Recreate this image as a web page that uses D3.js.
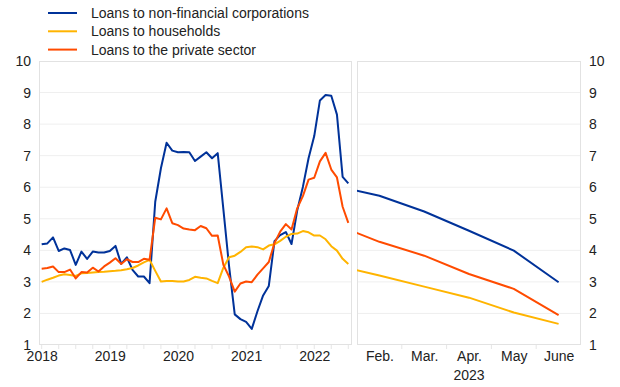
<!DOCTYPE html>
<html>
<head>
<meta charset="utf-8">
<script src="https://cdn.jsdelivr.net/npm/d3@7/dist/d3.min.js"></script>
<style>
  html, body { margin: 0; padding: 0; background: #ffffff; }
  svg { display: block; }
  text { font-family: "Liberation Sans", Arial, sans-serif; fill: #222; }
</style>
</head>
<body>
<svg id="chart" width="620" height="387"></svg>
<script>
// ---- Data (monthly, Jan 2018 – Jul 2022) ----
const yearLabels = ["2018", "2019", "2020", "2021", "2022"];
const yTicks = [1, 2, 3, 4, 5, 6, 7, 8, 9, 10];

const nfcLoans = [
  4.19, 4.22, 4.41, 3.98, 4.06, 4.01, 3.54, 3.96, 3.73, 3.96,
  3.93, 3.93, 3.98, 4.14, 3.57, 3.78, 3.38, 3.17, 3.17, 2.96,
  5.54, 6.60, 7.41, 7.16, 7.11, 7.12, 7.11, 6.83, 6.97, 7.11,
  6.92, 7.08, 5.30, 3.50, 1.97, 1.82, 1.73, 1.51, 2.07, 2.57,
  2.87, 4.29, 4.48, 4.58, 4.20, 5.26, 6.01, 6.92, 7.62, 8.75,
  8.92, 8.90, 8.30, 6.33, 6.12
];
const householdLoans = [
  3.00, 3.07, 3.13, 3.20, 3.24, 3.22, 3.19, 3.27, 3.28, 3.30,
  3.31, 3.32, 3.34, 3.35, 3.37, 3.40, 3.44, 3.52, 3.62, 3.70,
  3.35, 3.01, 3.03, 3.03, 3.01, 3.01, 3.06, 3.16, 3.13, 3.11,
  3.03, 2.96, 3.45, 3.78, 3.83, 3.95, 4.10, 4.12, 4.10, 4.03,
  4.15, 4.19, 4.30, 4.43, 4.52, 4.53, 4.61, 4.57, 4.47, 4.47,
  4.35, 4.13, 3.99, 3.73, 3.57
];
const privateSectorLoans = [
  3.42, 3.44, 3.49, 3.31, 3.31, 3.39, 3.11, 3.31, 3.30, 3.45,
  3.33, 3.49, 3.61, 3.75, 3.57, 3.72, 3.63, 3.63, 3.73, 3.70,
  5.03, 4.98, 5.33, 4.86, 4.80, 4.69, 4.66, 4.64, 4.77, 4.70,
  4.46, 4.47, 3.54, 3.17, 2.69, 2.95, 3.01, 2.99, 3.23, 3.43,
  3.63, 4.23, 4.59, 4.83, 4.66, 5.33, 5.72, 6.24, 6.30, 6.82,
  7.09, 6.56, 6.31, 5.38, 4.87
];

// ---- 2023 panel (Jan – June) ----
const monthLabels = ["Jan.", "Feb.", "Mar.", "Apr.", "May", "June"];
const nfc2023 = [6.05, 5.73, 5.23, 4.62, 3.99, 2.99];
const households2023 = [3.54, 3.20, 2.85, 2.50, 2.03, 1.67];
const privateSector2023 = [4.83, 4.27, 3.83, 3.25, 2.78, 1.95];

const seriesNames = ["Loans to non-financial corporations", "Loans to households", "Loans to the private sector"];
const seriesColors = ["#003299", "#ffb400", "#ff4b00"];

// ---- Layout ----
const svg = d3.select("#chart");
const plotTop = 61, plotBottom = 345;
const leftPanel = { x0: 39, x1: 352 };
const rightPanel = { x0: 357, x1: 581 };

const y = d3.scaleLinear().domain([1, 10]).range([plotBottom, plotTop]);
const xL = d3.scaleLinear().domain([-0.47, 54.65]).range([leftPanel.x0, leftPanel.x1]);
const xR = d3.scaleLinear().domain([0.5, 5.5]).range([rightPanel.x0, rightPanel.x1]);

// clip paths
const defs = svg.append("defs");
defs.append("clipPath").attr("id", "clipL").append("rect")
  .attr("x", leftPanel.x0).attr("y", plotTop).attr("width", leftPanel.x1 - leftPanel.x0).attr("height", plotBottom - plotTop);
defs.append("clipPath").attr("id", "clipR").append("rect")
  .attr("x", rightPanel.x0).attr("y", plotTop).attr("width", rightPanel.x1 - rightPanel.x0).attr("height", plotBottom - plotTop);

// gridlines and panel frames
[leftPanel, rightPanel].forEach(p => {
  svg.append("g").selectAll("line").data(yTicks.slice(1, -1)).join("line")
    .attr("x1", p.x0).attr("x2", p.x1)
    .attr("y1", d => y(d)).attr("y2", d => y(d))
    .attr("stroke", "#efefef").attr("stroke-width", 1);
  svg.append("rect")
    .attr("x", p.x0 + 0.5).attr("y", plotTop + 0.5)
    .attr("width", p.x1 - p.x0 - 1).attr("height", plotBottom - plotTop - 1)
    .attr("fill", "none").attr("stroke", "#e2e2e2").attr("stroke-width", 1);
});

// minor ticks (quarters on left, months on right)
svg.append("g").selectAll("line").data(d3.range(0, 55, 3)).join("line")
  .attr("x1", d => xL(d)).attr("x2", d => xL(d))
  .attr("y1", plotBottom).attr("y2", plotBottom + 4)
  .attr("stroke", "#e6e6e6");
svg.append("g").selectAll("line").data([1.5, 2.5, 3.5, 4.5]).join("line")
  .attr("x1", d => xR(d)).attr("x2", d => xR(d))
  .attr("y1", plotBottom).attr("y2", plotBottom + 4)
  .attr("stroke", "#e6e6e6");

// axes
function styleAxis(g) {
  g.select(".domain").remove();
  g.selectAll("text").style("font-size", "14px").attr("fill", "#222");
}
svg.append("g").attr("transform", `translate(${leftPanel.x0},0)`)
  .call(d3.axisLeft(y).tickValues(yTicks).tickFormat(d3.format("d")).tickSize(0).tickPadding(8))
  .call(styleAxis);
svg.append("g").attr("transform", `translate(${rightPanel.x1},0)`)
  .call(d3.axisRight(y).tickValues(yTicks).tickFormat(d3.format("d")).tickSize(0).tickPadding(8))
  .call(styleAxis);
svg.append("g").attr("transform", `translate(0,${plotBottom})`)
  .call(d3.axisBottom(xL).tickValues(yearLabels.map((_, i) => i * 12))
    .tickFormat((d, i) => yearLabels[i]).tickSize(0).tickPadding(6))
  .call(styleAxis);
svg.append("g").attr("transform", `translate(0,${plotBottom})`)
  .call(d3.axisBottom(xR).tickValues([1, 2, 3, 4, 5])
    .tickFormat(d => monthLabels[d]).tickSize(0).tickPadding(6))
  .call(styleAxis);
svg.append("text").attr("x", xR(3)).attr("y", plotBottom + 35)
  .attr("text-anchor", "middle").style("font-size", "14px").text("2023");

// lines
const leftSeries = [nfcLoans, householdLoans, privateSectorLoans];
const rightSeries = [nfc2023, households2023, privateSector2023];
const lineL = d3.line().x((d, i) => xL(i)).y(d => y(d));
const lineR = d3.line().x((d, i) => xR(i)).y(d => y(d));

const gL = svg.append("g").attr("clip-path", "url(#clipL)");
const gR = svg.append("g").attr("clip-path", "url(#clipR)");
leftSeries.forEach((s, k) => {
  gL.append("path").datum(s).attr("d", lineL)
    .attr("fill", "none").attr("stroke", seriesColors[k]).attr("stroke-width", 2)
    .attr("stroke-linejoin", "round");
});
rightSeries.forEach((s, k) => {
  gR.append("path").datum(s).attr("d", lineR)
    .attr("fill", "none").attr("stroke", seriesColors[k]).attr("stroke-width", 2)
    .attr("stroke-linejoin", "round");
});

// legend
const legend = svg.append("g");
seriesNames.forEach((name, k) => {
  const ly = 13 + k * 18.3;
  legend.append("line").attr("x1", 48).attr("x2", 77).attr("y1", ly).attr("y2", ly)
    .attr("stroke", seriesColors[k]).attr("stroke-width", 2);
  legend.append("text").attr("x", 91).attr("y", ly + 5)
    .style("font-size", "14px").text(name);
});
</script>
</body>
</html>
